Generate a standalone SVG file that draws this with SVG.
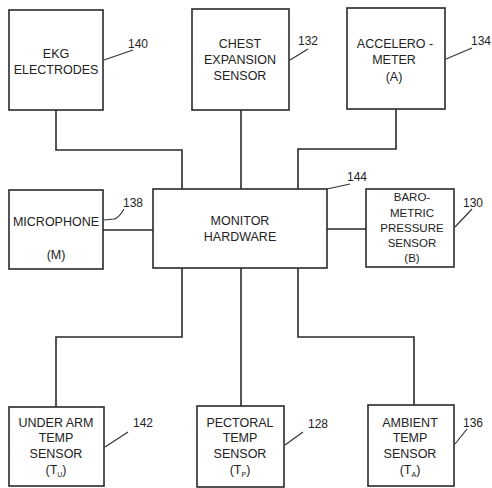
<svg xmlns="http://www.w3.org/2000/svg" width="492" height="488" viewBox="0 0 492 488">
<style>
.box{fill:#fff;stroke:#2a2a2a;stroke-width:1.6}
.ln{fill:none;stroke:#2a2a2a;stroke-width:1.6}
.lead{fill:none;stroke:#333;stroke-width:1.2}
.t{font-family:"Liberation Sans",Arial,sans-serif;font-size:12.5px;fill:#222;text-anchor:middle}
.s{font-size:11.5px}
.n{font-family:"Liberation Sans",Arial,sans-serif;font-size:12px;fill:#222}
.sub{font-size:7px}
</style>
<rect width="492" height="488" fill="#fff"/>
<g id="connectors">
<polyline class="ln" points="56,110 56,150 182,150 182,189"/>
<line class="ln" x1="241" y1="110" x2="241" y2="189"/>
<polyline class="ln" points="396,109 396,149 298,149 298,189"/>
<line class="ln" x1="103" y1="230" x2="153" y2="230" stroke-width="2.2"/>
<line class="ln" x1="327" y1="229" x2="366" y2="229" stroke-width="2.2"/>
<polyline class="ln" points="182,268 182,337 56,337 56,407"/>
<line class="ln" x1="241" y1="268" x2="241" y2="406"/>
<polyline class="ln" points="298,268 298,337 414,337 414,405"/>
</g>
<g id="ekg">
<rect class="box" x="9" y="10" width="94" height="100"/>
<text class="t" x="56" y="58">EKG</text>
<text class="t" x="56" y="74">ELECTRODES</text>
<line class="lead" x1="104" y1="60" x2="133" y2="50"/>
<text class="n" x="128" y="48">140</text>
</g>
<g id="chest">
<rect class="box" x="192" y="9" width="97" height="101"/>
<text class="t" x="240" y="48">CHEST</text>
<text class="t" x="240" y="64">EXPANSION</text>
<text class="t" x="240" y="80">SENSOR</text>
<line class="lead" x1="290" y1="60" x2="308" y2="49"/>
<text class="n" x="298" y="45">132</text>
</g>
<g id="accel">
<rect class="box" x="347" y="8" width="98" height="101"/>
<text class="t" x="395" y="48">ACCELERO -</text>
<text class="t" x="394" y="64">METER</text>
<text class="t" x="394" y="81">(A)</text>
<line class="lead" x1="446" y1="59" x2="472" y2="48"/>
<text class="n" x="471" y="45">134</text>
</g>
<g id="monitor">
<rect class="box" x="153" y="189" width="174" height="79"/>
<text class="t" x="240" y="225">MONITOR</text>
<text class="t" x="240" y="241">HARDWARE</text>
<line class="lead" x1="327" y1="189" x2="350" y2="184"/>
<text class="n" x="347" y="181">144</text>
</g>
<g id="microphone">
<rect class="box" x="9" y="190" width="94" height="79"/>
<text class="t" x="56" y="226">MICROPHONE</text>
<text class="t" x="56" y="259">(M)</text>
<path class="lead" d="M104,220 L114,219 Q119,218 124,209"/>
<text class="n" x="123" y="207">138</text>
</g>
<g id="baro">
<rect class="box" x="366" y="189" width="88" height="78"/>
<text class="t s" x="412" y="201">BARO-</text>
<text class="t s" x="412" y="217">METRIC</text>
<text class="t s" x="412" y="232">PRESSURE</text>
<text class="t s" x="412" y="247">SENSOR</text>
<text class="t s" x="412" y="262">(B)</text>
<line class="lead" x1="455" y1="227" x2="472" y2="209"/>
<text class="n" x="463" y="207">130</text>
</g>
<g id="underarm">
<rect class="box" x="9" y="407" width="95" height="79"/>
<text class="t" x="56" y="427">UNDER ARM</text>
<text class="t" x="56" y="442">TEMP</text>
<text class="t" x="56" y="458">SENSOR</text>
<text class="t" x="56" y="474">(T<tspan class="sub" dy="3">U</tspan><tspan dy="-3">)</tspan></text>
<line class="lead" x1="105" y1="447" x2="128" y2="432"/>
<text class="n" x="133" y="427">142</text>
</g>
<g id="pectoral">
<rect class="box" x="197" y="406" width="87" height="81"/>
<text class="t" x="240" y="427">PECTORAL</text>
<text class="t" x="240" y="442">TEMP</text>
<text class="t" x="240" y="458">SENSOR</text>
<text class="t" x="240" y="474">(T<tspan class="sub" dy="3">P</tspan><tspan dy="-3">)</tspan></text>
<line class="lead" x1="285" y1="445" x2="303" y2="432"/>
<text class="n" x="308" y="428">128</text>
</g>
<g id="ambient">
<rect class="box" x="368" y="405" width="86" height="81"/>
<text class="t" x="410" y="427">AMBIENT</text>
<text class="t" x="410" y="442">TEMP</text>
<text class="t" x="410" y="458">SENSOR</text>
<text class="t" x="410" y="474">(T<tspan class="sub" dy="3">A</tspan><tspan dy="-3">)</tspan></text>
<line class="lead" x1="455" y1="444" x2="467" y2="429"/>
<text class="n" x="463" y="427">136</text>
</g>
</svg>
